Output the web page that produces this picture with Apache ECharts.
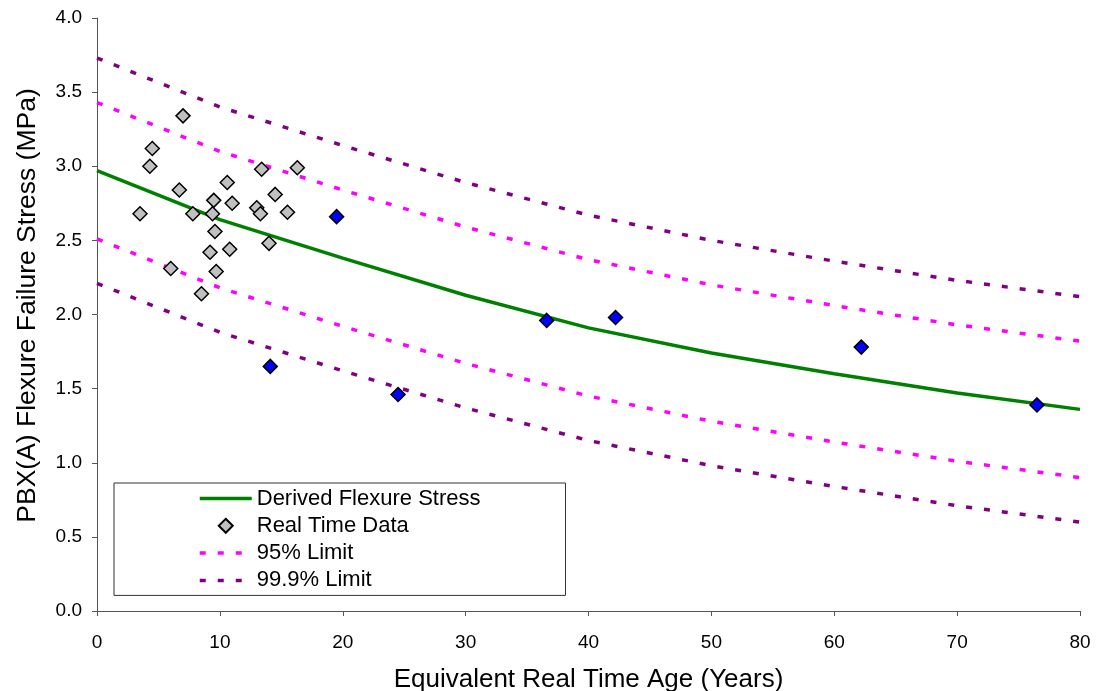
<!DOCTYPE html>
<html>
<head>
<meta charset="utf-8">
<script src="https://cdn.jsdelivr.net/npm/echarts@6/dist/echarts.min.js"></script>
<style>
  html, body { margin: 0; padding: 0; background: #fff; }
  #chart { width: 1104px; height: 691px; }
</style>
</head>
<body>
<div id="chart"></div>
<script>
  // age axis (years) for the fitted curves
  const ages = [0, 10, 20, 30, 40, 50, 60, 70, 80];
  // derived flexure stress curve (MPa)
  const derived = [2.97, 2.64, 2.38, 2.13, 1.91, 1.74, 1.60, 1.47, 1.36];
  // 95% limits
  const upper95 = [3.43, 3.10, 2.84, 2.59, 2.37, 2.20, 2.06, 1.93, 1.82];
  const lower95 = [2.51, 2.18, 1.92, 1.67, 1.45, 1.28, 1.14, 1.01, 0.90];
  // 99.9% limits
  const upper999 = [3.73, 3.40, 3.14, 2.89, 2.67, 2.50, 2.36, 2.23, 2.12];
  const lower999 = [2.21, 1.88, 1.62, 1.37, 1.15, 0.98, 0.84, 0.71, 0.60];

  // real time data (gray)
  const rtAge = [7.0, 4.5, 4.3, 13.4, 16.3, 10.6, 6.7, 14.5, 9.5, 11.0, 13.0, 3.5,
                 7.8, 9.4, 13.3, 15.5, 9.6, 14.0, 10.8, 9.2, 6.0, 9.7, 8.5];
  const rtStress = [3.34, 3.12, 3.00, 2.98, 2.99, 2.89, 2.84, 2.81, 2.77, 2.75, 2.72, 2.68,
                    2.68, 2.68, 2.68, 2.69, 2.56, 2.48, 2.44, 2.42, 2.31, 2.29, 2.14];
  // highlighted points (blue)
  const hiAge = [19.5, 14.1, 24.5, 36.6, 42.2, 62.2, 76.5];
  const hiStress = [2.66, 1.65, 1.46, 1.96, 1.98, 1.78, 1.39];

  const xTicks = [0, 10, 20, 30, 40, 50, 60, 70, 80];
  const yTicks = [0, 0.5, 1, 1.5, 2, 2.5, 3, 3.5, 4];

  const pairs = (xs, ys) => xs.map((x, i) => [x, ys[i]]);

  let chart = echarts.init(document.getElementById('chart'), null, { renderer: 'canvas' });

  const font = 'Liberation Sans, Arial, sans-serif';
  const axisColor = '#555';
  const hideSym = { opacity: 0 };
  const legLine = { width: 3.5 };

  let option = {
    animation: false,
    textStyle: { fontFamily: font, color: '#000' },
    grid: { left: 97, right: 24, top: 18, bottom: 80, outerBoundsMode: 'none', containLabel: false },
    legend: {
      data: [
        { name: 'Derived Flexure Stress', itemStyle: hideSym, lineStyle: legLine },
        { name: 'Real Time Data', icon: 'path://M0,-1L1,0L0,1L-1,0Z' },
        { name: '95% Limit', itemStyle: hideSym, lineStyle: legLine },
        { name: '99.9% Limit', itemStyle: hideSym, lineStyle: legLine }
      ],
      orient: 'vertical',
      left: 114,
      top: 483,
      padding: [4.5, 85, 4, 84],
      itemWidth: 52,
      itemHeight: 14,
      itemGap: 5.3,
      symbolKeepAspect: true,
      borderColor: '#333',
      borderWidth: 1,
      borderRadius: 0,
      selectedMode: false,
      textStyle: { fontFamily: font, fontSize: 22, color: '#000' }
    },
    xAxis: {
      type: 'value',
      min: 0,
      max: 80,
      interval: 10,
      name: 'Equivalent Real Time Age (Years)',
      nameLocation: 'middle',
      nameGap: 56,
      nameTextStyle: { fontFamily: font, fontSize: 26, color: '#000' },
      axisLine: { show: true, lineStyle: { color: axisColor, width: 1 } },
      axisTick: { show: true, length: 5, lineStyle: { color: axisColor } },
      axisLabel: {
        fontFamily: font, fontSize: 19, color: '#000', margin: 22,
        formatter: v => xTicks.includes(v) ? String(v) : ''
      },
      splitLine: { show: false }
    },
    yAxis: {
      type: 'value',
      min: 0,
      max: 4,
      interval: 0.5,
      name: 'PBX(A) Flexure Failure Stress (MPa)',
      nameLocation: 'middle',
      nameGap: 56,
      nameTextStyle: { fontFamily: font, fontSize: 26.5, color: '#000', padding: [0, 0, 0, 18] },
      axisLine: { show: true, lineStyle: { color: axisColor, width: 1 } },
      axisTick: { show: true, length: 5, lineStyle: { color: axisColor } },
      axisLabel: {
        fontFamily: font, fontSize: 19, color: '#000', margin: 15,
        formatter: v => yTicks.includes(v) ? v.toFixed(1) : ''
      },
      splitLine: { show: false }
    },
    series: [
      {
        name: '99.9% Limit', type: 'line', symbol: 'none', data: pairs(ages, upper999),
        lineStyle: { color: '#800080', width: 3.5, type: [6, 12] }, itemStyle: { color: '#800080' }, z: 2
      },
      {
        name: '99.9% Limit', type: 'line', symbol: 'none', data: pairs(ages, lower999),
        lineStyle: { color: '#800080', width: 3.5, type: [6, 12] }, itemStyle: { color: '#800080' }, z: 2
      },
      {
        name: '95% Limit', type: 'line', symbol: 'none', data: pairs(ages, upper95),
        lineStyle: { color: '#ff00ff', width: 3.5, type: [6, 12] }, itemStyle: { color: '#ff00ff' }, z: 2
      },
      {
        name: '95% Limit', type: 'line', symbol: 'none', data: pairs(ages, lower95),
        lineStyle: { color: '#ff00ff', width: 3.5, type: [6, 12] }, itemStyle: { color: '#ff00ff' }, z: 2
      },
      {
        name: 'Derived Flexure Stress', type: 'line', symbol: 'none', data: pairs(ages, derived),
        lineStyle: { color: '#008000', width: 3.5 }, itemStyle: { color: '#008000' }, z: 3
      },
      {
        name: 'Real Time Data', type: 'scatter', symbol: 'diamond', symbolSize: 14,
        data: pairs(rtAge, rtStress),
        itemStyle: { color: '#c0c0c0', borderColor: '#000', borderWidth: 1.5, opacity: 1 }, z: 4
      },
      {
        name: 'Blue Data', type: 'scatter', symbol: 'diamond', symbolSize: 14,
        data: pairs(hiAge, hiStress),
        itemStyle: { color: '#0000ff', borderColor: '#000', borderWidth: 1.5, opacity: 1 }, z: 4
      }
    ]
  };

  chart.setOption(option);
</script>
</body>
</html>
